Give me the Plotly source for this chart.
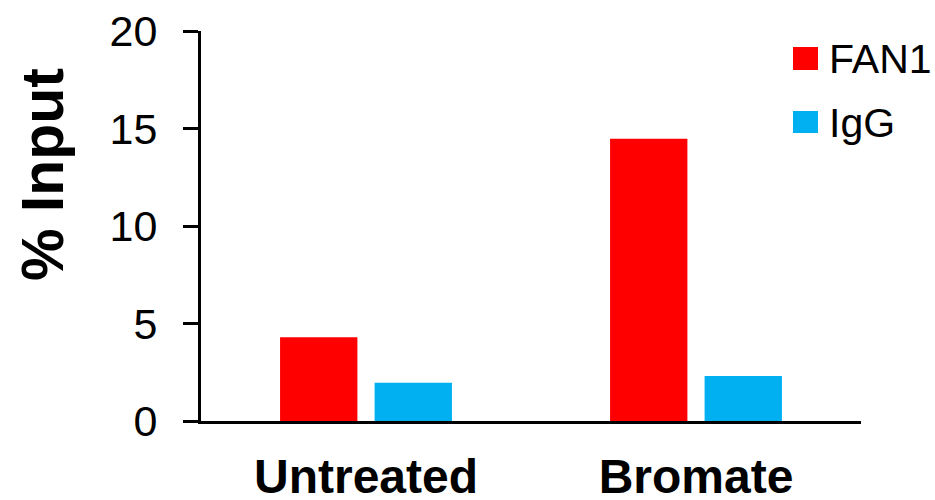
import plotly.graph_objects as go

categories = ["Untreated", "Bromate"]
series_names = ["FAN1", "IgG"]
fan1_values = [4.29, 14.48]
igg_values = [1.96, 2.31]
y_ticks = [0, 5, 10, 15, 20]

colors = {"FAN1": "#FF0000", "IgG": "#00B0F0"}
FONT = "Arial, Liberation Sans, sans-serif"

fig = go.Figure()
fig.add_trace(go.Bar(x=categories, y=fan1_values, name="FAN1",
                     marker=dict(color=colors["FAN1"], line=dict(width=0)), showlegend=False))
fig.add_trace(go.Bar(x=categories, y=igg_values, name="IgG",
                     marker=dict(color=colors["IgG"], line=dict(width=0)), showlegend=False))

L, R, T, B = 201, 74, 31, 79
W, H = 935, 500
pw = W - L - R
ph = H - T - B

def px_x(px):
    return (px - L) / pw

def px_y(py):
    return (H - B - py) / ph

# legend drawn manually (large squares)
legend_rows = [("FAN1", 47, 70), ("IgG", 111, 133)]
for name, top, bot in legend_rows:
    fig.add_shape(type="rect", xref="paper", yref="paper",
                  x0=px_x(793), x1=px_x(818), y0=px_y(bot), y1=px_y(top),
                  fillcolor=colors[name], line=dict(width=0))
    fig.add_annotation(xref="paper", yref="paper", x=px_x(827), y=px_y((top + bot) / 2 + 1),
                       text=name, showarrow=False, xanchor="left", yanchor="middle",
                       font=dict(family=FONT, size=41, color="black"))

# y-axis title
fig.add_annotation(xref="paper", yref="paper", x=px_x(43), y=px_y(175),
                   text="<b>% Input</b>", textangle=-90, showarrow=False,
                   xanchor="center", yanchor="middle",
                   font=dict(family=FONT, size=59, color="black"))

fig.update_layout(
    width=W, height=H,
    margin=dict(l=L, r=R, t=T, b=B, pad=0, autoexpand=False),
    paper_bgcolor="white", plot_bgcolor="white",
    barmode="group", bargap=0.427, bargroupgap=0.182,
    showlegend=False,
    font=dict(family=FONT, color="black"),
)
fig.update_xaxes(
    automargin=False,
    showline=True, linecolor="black", linewidth=3,
    ticks="", showgrid=False, zeroline=False,
    tickfont=dict(family=FONT, size=48, color="black", weight="bold"),
    ticklabelstandoff=11,
)
fig.update_yaxes(
    automargin=False,
    range=[0, 20], tickvals=y_ticks, ticktext=[str(v) for v in y_ticks],
    showline=True, linecolor="black", linewidth=3,
    ticks="outside", ticklen=15, tickwidth=3, tickcolor="black",
    showgrid=False, zeroline=False,
    tickfont=dict(family=FONT, size=43, color="black"),
    ticklabelstandoff=17,
)

fig.write_html("out.html",
               config={"displayModeBar": False},
               post_script="document.body.style.margin='0';document.body.style.overflow='hidden';")
